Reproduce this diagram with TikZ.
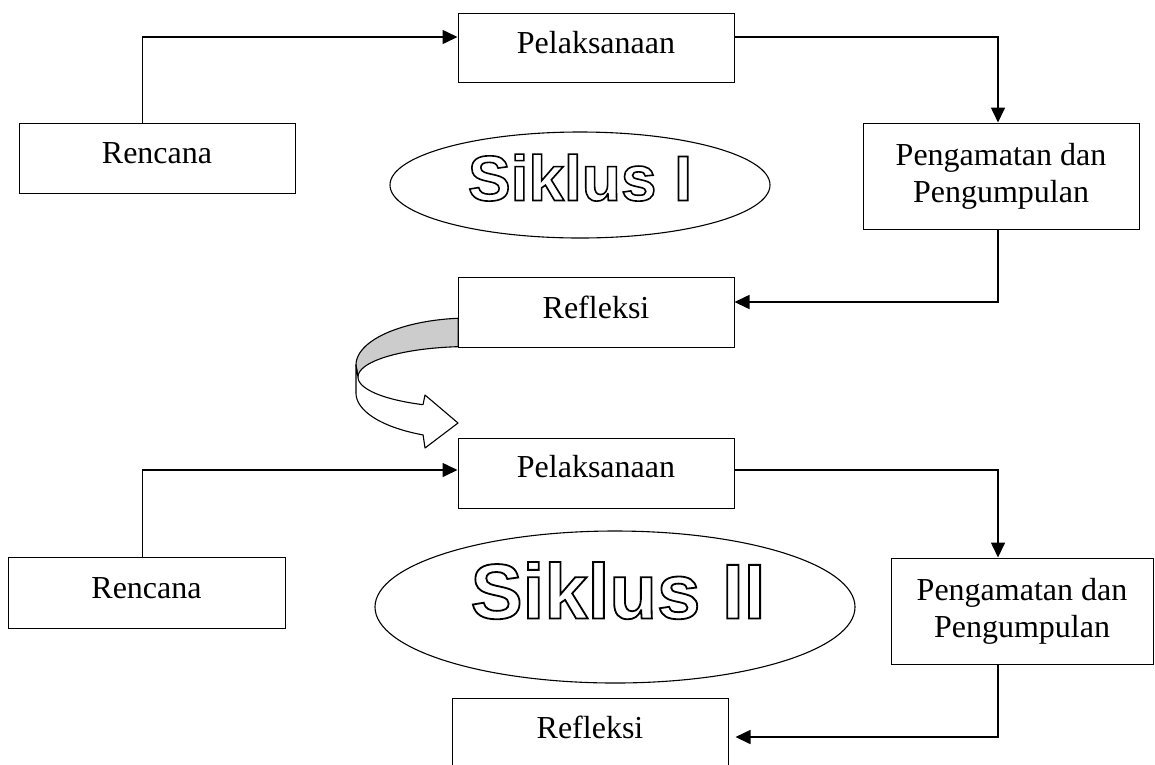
\documentclass[tikz,border=0pt]{standalone}
\usepackage{fontspec}
\setmainfont{Liberation Serif}
\newfontfamily\arialfont{Liberation Sans}
\usetikzlibrary{arrows.meta,shapes.geometric}
\newcommand{\hollowtext}[2]{\special{pdf:literal direct q 1 Tr #1 w}#2\special{pdf:literal direct Q}}
\begin{document}
\begin{tikzpicture}[x=1pt,y=-1pt,
  box/.style={draw, line width=1pt, rectangle, inner sep=0pt, minimum width=276pt, minimum height=70pt},
  txt/.style={anchor=base, inner sep=0pt, font=\fontsize{32}{37}\selectfont},
  twoline/.style={align=center, font=\fontsize{32}{37}\selectfont},
  conn/.style={line width=1.6pt, -{Triangle[length=15pt,width=14pt]}},
  oval/.style={draw, ellipse, line width=1.1pt, inner sep=0pt},
  sikA/.style={anchor=base, inner sep=0pt, font={\arialfont\bfseries\fontsize{64}{70}\selectfont}},
  sikB/.style={anchor=base, inner sep=0pt, font={\arialfont\bfseries\fontsize{78}{84}\selectfont}},
  band/.style={line width=1.1pt, line join=round},
]
\useasboundingbox (0,0) rectangle (1155,764);

% ---------- Siklus I ----------
\node[box, minimum height=70pt] (ren1) at (157,158) {};
\node[txt] (ren1t) at (157,163) {Rencana};
\node[box, minimum height=69pt] (pel1) at (596,47.5) {};
\node[txt] (pel1t) at (596,53) {Pelaksanaan};
\node[box, minimum height=106pt, twoline] (pen1) at (1001,176) {Pengamatan dan\\Pengumpulan};
\node[box] (ref1) at (596,312) {};
\node[txt] (ref1t) at (596,318) {Refleksi};

\node[oval, minimum width=380pt, minimum height=106pt] (e1) at (580,185) {};
\node[sikA] (s1) at (580,200.5) {\hollowtext{1.6}{Siklus I}};

\draw[conn] ([xshift=124pt]ren1.north west) |- ([yshift=10.5pt]pel1.west);
\draw[conn] ([yshift=10.5pt]pel1.east) -| ([xshift=-3pt]pen1.north);
\draw[conn] ([xshift=-3pt]pen1.south) |- ([yshift=10pt]ref1.east);

% ---------- curved arrow ----------
\draw[band, fill=gray!40]
  plot[domain=-96:-180, samples=40] ({470+114*cos(\x)},{365+47*sin(\x)})
  -- plot[domain=180:264, samples=40] ({470+112*cos(\x)},{377+30.5*sin(\x)})
  -- cycle;
\draw[band, fill=white]
  (356,365)
  -- plot[domain=180:114.3, samples=40] ({470+114*cos(\x)},{393+46*sin(\x)})
  -- (425,448) -- (458,423) -- (425,395)
  -- plot[domain=114.8:180, samples=40] ({470+112*cos(\x)},{377+30.5*sin(\x)})
  -- cycle;

% ---------- Siklus II ----------
\node[box, minimum height=70pt] (pel2) at (596,473) {};
\node[txt] (pel2t) at (596,477) {Pelaksanaan};
\node[box, minimum width=277pt, minimum height=71pt] (ren2) at (146.5,592.5) {};
\node[txt] (ren2t) at (146.5,598) {Rencana};
\node[box, minimum width=262pt, minimum height=106pt, twoline] (pen2) at (1022,611) {Pengamatan dan\\Pengumpulan};
\node[box] (ref2) at (590,733) {};
\node[txt] (ref2t) at (590,738) {Refleksi};

\node[oval, minimum width=480pt, minimum height=152pt] (e2) at (615,607) {};
\node[sikB] (s2) at (618,618.5) {\hollowtext{1.8}{Siklus II}};

\draw[conn] ([xshift=135pt]ren2.north west) |- ([yshift=3pt]pel2.west);
\draw[conn] ([yshift=3pt]pel2.east) -| ([xshift=-24pt]pen2.north);
\draw[conn, shorten >=7pt] ([xshift=-24pt]pen2.south) |- ([yshift=-4pt]ref2.east);
\end{tikzpicture}
\end{document}
